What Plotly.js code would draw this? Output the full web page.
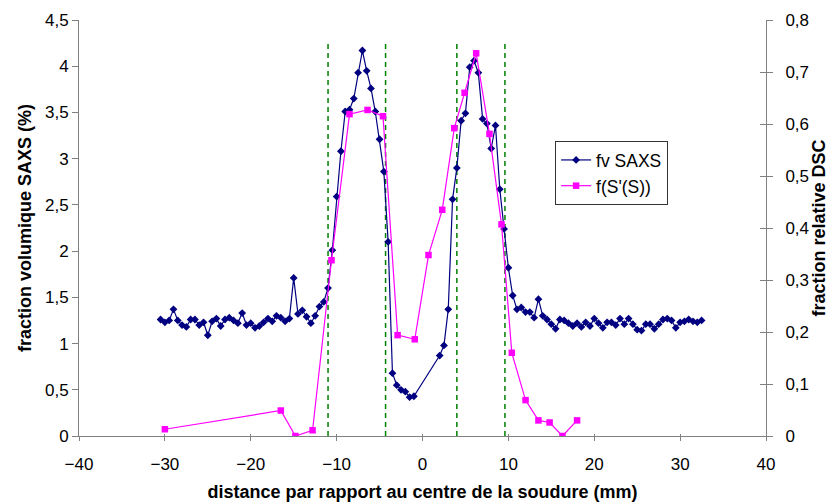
<!DOCTYPE html>
<html>
<head>
<meta charset="utf-8">
<script src="https://cdn.plot.ly/plotly-3.0.1.min.js"></script>
<style>html,body{margin:0;padding:0;background:#fff;}#chart{width:829px;height:502px;}</style>
</head>
<body>
<div id="chart"></div>
<script>
const saxsX = [-30.5,-30,-29.5,-29,-28.5,-28,-27.5,-27,-26.5,-26,-25.5,-25,-24.5,-24,-23.5,-23,-22.5,-22,-21.5,-21,-20.5,-20,-19.5,-19,-18.5,-18,-17.5,-17,-16.5,-16,-15.5,-15,-14.5,-14,-13.5,-13,-12.5,-12,-11.5,-11,-10.5,-10,-9.5,-9,-8.5,-8,-7.5,-7,-6.5,-6,-5.5,-5,-4.5,-4,-3.5,-3,-2.5,-2,-1.5,-1,2,2.5,3,3.5,4,4.5,5,5.5,6,6.5,7,7.5,8,8.5,9,9.5,10,10.5,11,11.5,12,12.5,13,13.5,14,14.5,15,15.5,16,16.5,17,17.5,18,18.5,19,19.5,20,20.5,21,21.5,22,22.5,23,23.5,24,24.5,25,25.5,26,26.5,27,27.5,28,28.5,29,29.5,30,30.5,31,31.5,32,32.5];
const saxsY = [1.26,1.23,1.25,1.37,1.25,1.20,1.18,1.26,1.26,1.20,1.23,1.09,1.24,1.27,1.19,1.26,1.28,1.25,1.22,1.33,1.20,1.22,1.17,1.19,1.23,1.27,1.24,1.30,1.28,1.24,1.27,1.71,1.32,1.36,1.29,1.22,1.30,1.40,1.45,1.60,2.01,2.59,3.08,3.51,3.53,3.65,3.93,4.17,3.95,3.76,3.51,3.21,2.86,2.10,0.68,0.55,0.50,0.48,0.42,0.43,0.87,0.98,1.37,2.56,2.90,3.41,3.49,3.99,4.06,3.93,3.43,3.38,3.11,3.36,2.67,2.24,1.82,1.52,1.37,1.39,1.34,1.34,1.28,1.48,1.30,1.26,1.21,1.16,1.26,1.25,1.22,1.19,1.22,1.18,1.23,1.19,1.27,1.22,1.17,1.23,1.23,1.20,1.27,1.21,1.27,1.21,1.15,1.14,1.21,1.21,1.16,1.21,1.26,1.27,1.25,1.17,1.23,1.24,1.26,1.24,1.23,1.25];

const dscX = [-30,-16.5,-14.8,-12.8,-10.6,-8.5,-6.4,-4.6,-2.9,-0.9,0.7,2.3,3.7,4.9,6.25,7.8,9.2,10.4,12.0,13.5,14.8,16.3,18.0];
const dscY = [0.013,0.049,0,0.011,0.338,0.619,0.627,0.615,0.194,0.186,0.348,0.435,0.592,0.660,0.736,0.581,0.407,0.160,0.069,0.030,0.026,0,0.030];

const zoneX = [-11, -4.3, 4.0, 9.6];
const zoneTop = 4.25;

const seriesNames = ['fv SAXS', "f(S'(S))"];
const xTitle = 'distance par rapport au centre de la soudure (mm)';
const yTitle = 'fraction volumique SAXS (%)';
const y2Title = 'fraction relative DSC';

const font = 'Liberation Sans, Arial, sans-serif';
const axisGray = '#808080';

const traces = [
  {x: saxsX, y: saxsY, name: seriesNames[0], type: 'scatter', mode: 'lines+markers',
   line: {color: '#000080', width: 1.2}, marker: {symbol: 'diamond', size: 6, color: '#000080'}},
  {x: dscX, y: dscY, name: seriesNames[1], type: 'scatter', mode: 'lines+markers', yaxis: 'y2',
   line: {color: '#FF00FF', width: 1.2}, marker: {symbol: 'square', size: 6.5, color: '#FF00FF'}}
];

const shapes = zoneX.map(v => ({type: 'line', xref: 'x', yref: 'y', x0: v, x1: v, y0: 0, y1: zoneTop,
  line: {color: '#008000', width: 1.5, dash: '5px,4px'}, layer: 'below'}));

const layout = {
  width: 829, height: 502,
  margin: {l: 79, r: 63, t: 20, b: 66},
  paper_bgcolor: '#fff', plot_bgcolor: '#fff',
  separators: ', ',
  font: {family: font, size: 17, color: '#000'},
  showlegend: true,
  legend: {x: 0.693, y: 0.709, xanchor: 'left', yanchor: 'top', bgcolor: '#fff',
    bordercolor: '#333', borderwidth: 1, font: {size: 17.5, family: font}, tracegroupgap: 0,
    itemwidth: 30},
  shapes: shapes,
  xaxis: {range: [-40, 40], dtick: 10, tick0: 0, showgrid: false, zeroline: false,
    showline: true, linecolor: axisGray, linewidth: 1, ticks: 'outside', ticklen: 4, tickcolor: axisGray,
    tickfont: {size: 17, family: font}, ticklabelstandoff: 9,
    title: {text: '<b>' + xTitle + '</b>', font: {size: 18, family: font}, standoff: 11}},
  xaxis2: {range: [-40, 40], dtick: 10, tick0: 0, overlaying: 'x', side: 'bottom', showgrid: false, zeroline: false,
    showline: false, ticks: 'inside', ticklen: 2, tickcolor: axisGray, showticklabels: false},
  yaxis: {range: [0, 4.5], dtick: 0.5, tick0: 0, showgrid: false, zeroline: false,
    showline: true, linecolor: axisGray, linewidth: 1, ticks: 'outside', ticklen: 6, tickcolor: axisGray,
    tickfont: {size: 17, family: font}, ticklabelstandoff: 0,
    title: {text: '<b>' + yTitle + '</b>', font: {size: 18, family: font}, standoff: 8}},
  yaxis2: {range: [0, 0.8], dtick: 0.1, tick0: 0, overlaying: 'y', side: 'right', showgrid: false, zeroline: false,
    showline: true, linecolor: axisGray, linewidth: 1, ticks: 'outside', ticklen: 6, tickcolor: axisGray,
    tickfont: {size: 17, family: font}, ticklabelstandoff: 9,
    title: {text: '<b>' + y2Title + '</b>', font: {size: 18, family: font}, standoff: 4}},
  yaxis3: {range: [0, 0.8], dtick: 0.1, tick0: 0, overlaying: 'y', side: 'right', showgrid: false, zeroline: false,
    showline: false, ticks: 'inside', ticklen: 6, tickcolor: axisGray, showticklabels: false}
};

// invisible helper traces so the inner tick marks (crossing ticks) are drawn
traces.push({x: [null], y: [null], xaxis: 'x2', yaxis: 'y', showlegend: false, hoverinfo: 'skip', type: 'scatter'});
traces.push({x: [null], y: [null], xaxis: 'x', yaxis: 'y3', showlegend: false, hoverinfo: 'skip', type: 'scatter'});

Plotly.newPlot('chart', traces, layout, {displayModeBar: false, staticPlot: true});
</script>
</body>
</html>
